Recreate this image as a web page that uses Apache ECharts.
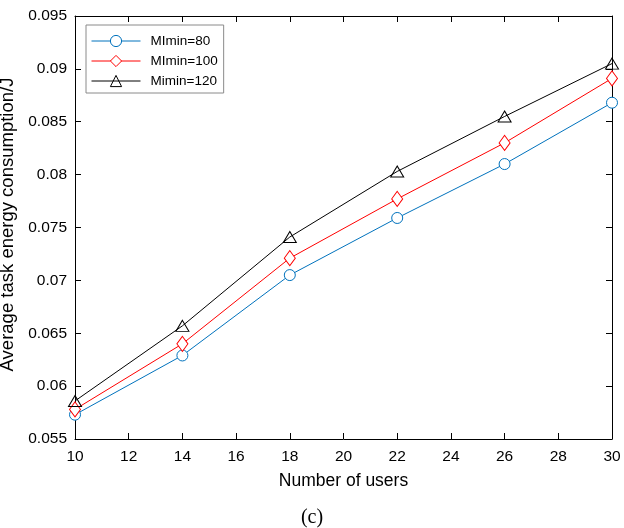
<!DOCTYPE html>
<html>
<head>
<meta charset="utf-8">
<script src="https://cdn.jsdelivr.net/npm/echarts@6/dist/echarts.min.js"></script>
<style>
html,body{margin:0;padding:0;background:#fff;}
#chart{width:624px;height:528px;}
</style>
</head>
<body>
<div id="chart"></div>
<script>
// Number of users on the x axis
const users = [10, 14, 18, 22, 26, 30];
// Average task energy consumption (J) for each MImin setting
const mi80 = [0.0573, 0.0629, 0.0705, 0.0759, 0.0810, 0.0868];
const mi100 = [0.0578, 0.0640, 0.0721, 0.0777, 0.0830, 0.0891];
const mi120 = [0.0586, 0.0657, 0.0741, 0.0803, 0.0855, 0.0905];
const seriesNames = ['MImin=80', 'MImin=100', 'Mimin=120'];

const font = 'Liberation Sans, Arial, sans-serif';
const chart = echarts.init(document.getElementById('chart'));

function pairs(vals) { return users.map((u, i) => [u, vals[i]]); }

const tickStyle = { inside: true, length: 6, lineStyle: { color: '#000', width: 1 } };
const lineAxis = { show: true, lineStyle: { color: '#000', width: 1 } };

chart.setOption({
  animation: false,
  backgroundColor: '#fff',
  grid: { left: 75, right: 12, top: 16, bottom: 89, outerBoundsMode: 'none', containLabel: false },
  title: {
    text: '(c)', left: 'center', top: 503,
    textStyle: { fontFamily: 'Liberation Serif, Times New Roman, serif', fontSize: 20, fontWeight: 'normal', color: '#000' }
  },
  legend: {
    left: 86, top: 25, orient: 'vertical',
    itemWidth: 49, itemHeight: 14, itemGap: 6,
    padding: [9, 6, 5, 5],
    backgroundColor: '#fff', borderColor: '#8a8a8a', borderWidth: 1,
    itemStyle: { borderWidth: 1 },
    lineStyle: { width: 1 },
    textStyle: { fontFamily: font, fontSize: 13.5, color: '#000', padding: [0, 0, 0, 5] },
    data: seriesNames
  },
  xAxis: [{
    type: 'value', min: 10, max: 30, interval: 2,
    axisLine: lineAxis, axisTick: tickStyle, splitLine: { show: false },
    axisLabel: { fontFamily: font, fontSize: 15.5, color: '#000', margin: 10 },
    name: 'Number of users', nameLocation: 'middle', nameGap: 33,
    nameTextStyle: { fontFamily: font, fontSize: 17.5, color: '#000' }
  }, {
    type: 'value', min: 10, max: 30, interval: 2, position: 'top',
    axisLine: lineAxis, axisTick: tickStyle, axisLabel: { show: false }, splitLine: { show: false }
  }],
  yAxis: [{
    type: 'value', min: 0.055, max: 0.095, interval: 0.005,
    axisLine: lineAxis, axisTick: tickStyle, splitLine: { show: false },
    axisLabel: { fontFamily: font, fontSize: 15.5, color: '#000', margin: 8,
      formatter: v => String(parseFloat(v.toFixed(3))) },
    name: 'Average task energy consumption/J', nameLocation: 'middle', nameGap: 49,
    nameTextStyle: { fontFamily: font, fontSize: 18.5, color: '#000', padding: [0, 0, 0, 6] }
  }, {
    type: 'value', min: 0.055, max: 0.095, interval: 0.005, position: 'right',
    axisLine: lineAxis, axisTick: tickStyle, axisLabel: { show: false }, splitLine: { show: false }
  }],
  series: [{
    name: seriesNames[0], type: 'line', data: pairs(mi80),
    symbol: 'circle', symbolSize: 11,
    lineStyle: { color: '#0072BD', width: 1 },
    itemStyle: { color: '#fff', borderColor: '#0072BD', borderWidth: 1 }
  }, {
    name: seriesNames[1], type: 'line', data: pairs(mi100),
    symbol: 'diamond', symbolSize: [11, 15],
    lineStyle: { color: '#ff0000', width: 1 },
    itemStyle: { color: '#fff', borderColor: '#ff0000', borderWidth: 1 }
  }, {
    name: seriesNames[2], type: 'line', data: pairs(mi120),
    symbol: 'triangle', symbolSize: [13, 11],
    lineStyle: { color: '#000', width: 1 },
    itemStyle: { color: 'rgba(0,0,0,0)', borderColor: '#000', borderWidth: 1 }
  }]
});
</script>
</body>
</html>
